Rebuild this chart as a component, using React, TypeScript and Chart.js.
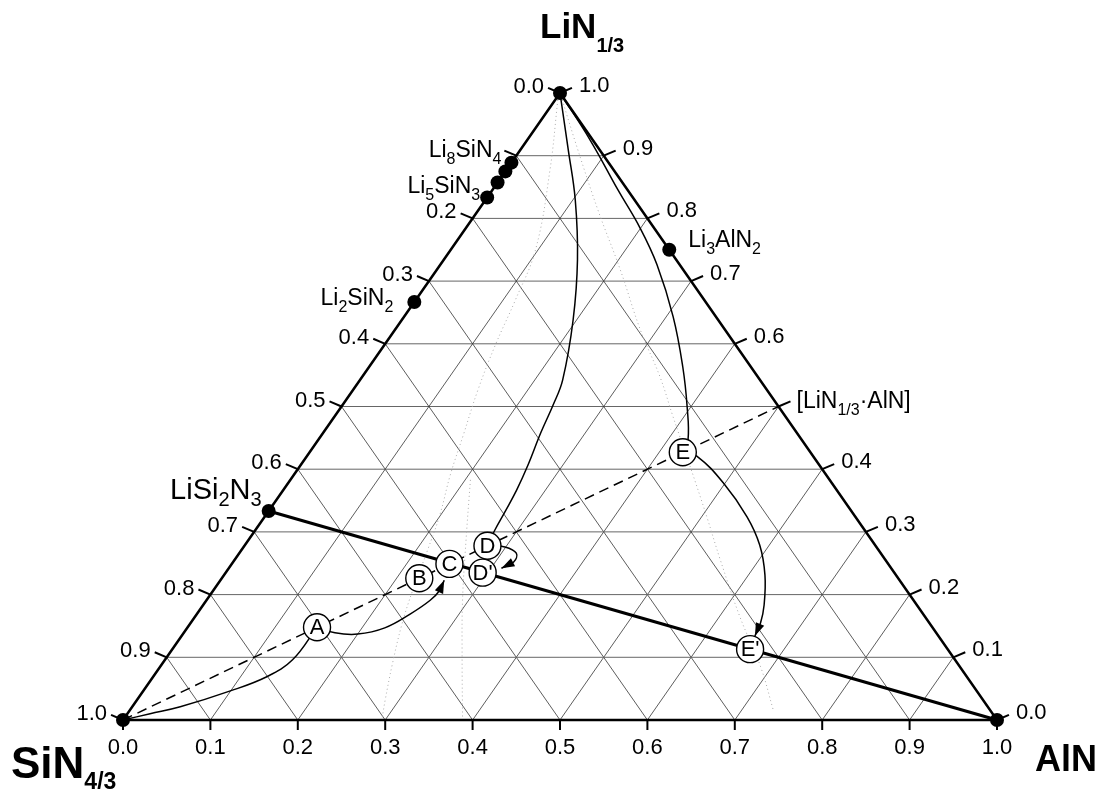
import React, { useEffect, useRef } from "react";
import { Chart, registerables } from "chart.js";
Chart.register(...registerables);

const FONT = '"Liberation Sans", Arial, Helvetica, sans-serif';
type Comp = [number, number]; // [AlN fraction, LiN1/3 fraction]

const tickValues = [0, 0.1, 0.2, 0.3, 0.4, 0.5, 0.6, 0.7, 0.8, 0.9, 1.0];
const tickLabels = ["0.0", "0.1", "0.2", "0.3", "0.4", "0.5", "0.6", "0.7", "0.8", "0.9", "1.0"];
const gridLevels = [0.1, 0.2, 0.3, 0.4, 0.5, 0.6, 0.7, 0.8, 0.9];
const hiddenLeftLabels = ["0.1"];
const hiddenRightLabels = ["0.5"];

const vertexComps: Comp[] = [[0, 0], [1, 0], [0, 1]];
const edgeLiN = [8 / 9, 7 / 8, 6 / 7, 5 / 6, 2 / 3, 1 / 3]; // on SiN4/3–LiN1/3 edge
const li3AlN2: Comp[] = [[0.25, 0.75]];

const dashedJoin: Comp[] = [[0, 0], [0.5, 0.5]];
const tieLine: Comp[] = [[0, 1 / 3], [1, 0]];

const circleNames = ["A", "B", "C", "D", "E", "D'", "E'"];
const circleAlN = [0.148, 0.226, 0.249, 0.278, 0.427, 0.294, 0.661];
const circleLiN = [0.148, 0.226, 0.249, 0.278, 0.427, 0.235, 0.113];

const curveSA: Comp[] = [[0, 0], [0.026, 0.010], [0.055, 0.021], [0.099, 0.046], [0.130, 0.069], [0.146, 0.096], [0.148, 0.148]];
const curveAC: Comp[] = [[0.148, 0.148], [0.173, 0.139], [0.200, 0.137], [0.226, 0.147], [0.244, 0.169], [0.256, 0.191], [0.259, 0.207], [0.256, 0.223]];
const curveTopD: Comp[] = [[0, 1], [0.055, 0.909], [0.103, 0.829], [0.153, 0.734], [0.196, 0.638], [0.232, 0.542], [0.241, 0.502], [0.249, 0.458], [0.260, 0.407], [0.267, 0.367], [0.271, 0.332], [0.274, 0.303], [0.278, 0.278]];
const curveDD: Comp[] = [[0.278, 0.278], [0.299, 0.276], [0.317, 0.266], [0.321, 0.252], [0.312, 0.242]];
const curveTopE: Comp[] = [[0, 1], [0.072, 0.925], [0.144, 0.845], [0.199, 0.785], [0.248, 0.726], [0.308, 0.643], [0.359, 0.563], [0.396, 0.499], [0.423, 0.447], [0.427, 0.427]];
const curveEE: Comp[] = [[0.427, 0.427], [0.446, 0.421], [0.498, 0.378], [0.552, 0.324], [0.589, 0.279], [0.619, 0.231], [0.642, 0.183], [0.652, 0.155], [0.656, 0.134]];
const dottedRight: Comp[] = [[0.008, 0.989], [0.066, 0.909], [0.137, 0.813], [0.210, 0.718], [0.281, 0.622], [0.341, 0.547], [0.388, 0.483], [0.447, 0.404], [0.506, 0.324], [0.556, 0.255], [0.624, 0.164], [0.687, 0.085], [0.736, 0.016]];
const dottedLeft: Comp[] = [[0.003, 0.989], [0.050, 0.877], [0.097, 0.750], [0.114, 0.670], [0.127, 0.598], [0.143, 0.526], [0.162, 0.455], [0.179, 0.391], [0.199, 0.327], [0.213, 0.271], [0.228, 0.207], [0.243, 0.152], [0.264, 0.088], [0.284, 0.032], [0.295, 0.003]];
const dottedMid: Comp[] = [[0.206, 0.383], [0.249, 0.287], [0.293, 0.191], [0.340, 0.096], [0.387, 0.003]];

type Part = [string, boolean];
const compoundLabels: { parts: Part[]; anchor: Comp; dx: number; dy: number; align: CanvasTextAlign; size: number; sub: number }[] = [
  { parts: [["Li", false], ["8", true], ["SiN", false], ["4", true]], anchor: [0, 8 / 9], dx: -10, dy: -6, align: "right", size: 23, sub: 16 },
  { parts: [["Li", false], ["5", true], ["SiN", false], ["3", true]], anchor: [0, 5 / 6], dx: -7, dy: -5, align: "right", size: 23, sub: 16 },
  { parts: [["Li", false], ["2", true], ["SiN", false], ["2", true]], anchor: [0, 2 / 3], dx: -21, dy: 3, align: "right", size: 23, sub: 16 },
  { parts: [["LiSi", false], ["2", true], ["N", false], ["3", true]], anchor: [0, 1 / 3], dx: -7, dy: -12, align: "right", size: 29, sub: 20 },
  { parts: [["Li", false], ["3", true], ["AlN", false], ["2", true]], anchor: [0.25, 0.75], dx: 19, dy: -3, align: "left", size: 23, sub: 16 },
  { parts: [["[LiN", false], ["1/3", true], ["·AlN]", false]], anchor: [0.5, 0.5], dx: 18, dy: 1, align: "left", size: 23, sub: 16 },
];

const toXY = (c: Comp) => ({ x: c[0] + c[1] / 2, y: c[1] });

function richText(ctx: CanvasRenderingContext2D, x: number, y: number, parts: Part[], size: number, sub: number, weight: string, align: CanvasTextAlign, subShift: number) {
  let w = 0;
  const widths: number[] = [];
  for (const [t, s] of parts) {
    ctx.font = `${weight} ${s ? sub : size}px ${FONT}`;
    const mw = ctx.measureText(t).width;
    widths.push(mw);
    w += mw;
  }
  let cx = align === "left" ? x : align === "right" ? x - w : x - w / 2;
  ctx.textAlign = "left";
  ctx.textBaseline = "alphabetic";
  parts.forEach(([t, s], i) => {
    ctx.font = `${weight} ${s ? sub : size}px ${FONT}`;
    ctx.fillText(t, cx, s ? y + subShift : y);
    cx += widths[i];
  });
}

const ternaryPlugin = {
  id: "ternaryDecor",
  beforeDatasetsDraw(chart: any) {
    const ctx: CanvasRenderingContext2D = chart.ctx;
    const xs = chart.scales.x, ys = chart.scales.y;
    const P = (c: Comp) => [xs.getPixelForValue(c[0] + c[1] / 2), ys.getPixelForValue(c[1])];
    ctx.save();
    ctx.strokeStyle = "#000";
    ctx.lineWidth = 2;
    const L = 13, dxT = 0.92, dyT = -0.39;
    tickValues.forEach((v) => {
      const [bx, by] = P([v, 0]);
      ctx.beginPath(); ctx.moveTo(bx, by); ctx.lineTo(bx, by + 10); ctx.stroke();
      const [lx, ly] = P([0, 1 - v]);
      ctx.beginPath(); ctx.moveTo(lx, ly); ctx.lineTo(lx - dxT * L, ly + dyT * L); ctx.stroke();
      const [rx, ry] = P([1 - v, v]);
      ctx.beginPath(); ctx.moveTo(rx, ry); ctx.lineTo(rx + dxT * L, ry + dyT * L); ctx.stroke();
    });
    ctx.restore();
  },
  afterDatasetsDraw(chart: any) {
    const ctx: CanvasRenderingContext2D = chart.ctx;
    const xs = chart.scales.x, ys = chart.scales.y;
    const P = (c: Comp) => [xs.getPixelForValue(c[0] + c[1] / 2), ys.getPixelForValue(c[1])];
    ctx.save();
    ctx.fillStyle = "#000";
    const arrow = (pts: Comp[]) => {
      const [x1, y1] = P(pts[pts.length - 1]);
      const [x0, y0] = P(pts[pts.length - 2]);
      const a = Math.atan2(y1 - y0, x1 - x0);
      const len = 13, hw = 4.5;
      ctx.beginPath();
      ctx.moveTo(x1, y1);
      ctx.lineTo(x1 - len * Math.cos(a) + hw * Math.sin(a), y1 - len * Math.sin(a) - hw * Math.cos(a));
      ctx.lineTo(x1 - len * Math.cos(a) - hw * Math.sin(a), y1 - len * Math.sin(a) + hw * Math.cos(a));
      ctx.closePath();
      ctx.fill();
    };
    arrow(curveAC);
    arrow(curveDD);
    arrow(curveEE);

    ctx.font = `22px ${FONT}`;
    tickValues.forEach((v, i) => {
      const lab = tickLabels[i];
      const [bx, by] = P([v, 0]);
      ctx.textAlign = "center"; ctx.textBaseline = "alphabetic";
      ctx.fillText(lab, bx, by + 34);
      if (!hiddenLeftLabels.includes(lab)) {
        const [lx, ly] = P([0, 1 - v]);
        ctx.textAlign = "right";
        ctx.fillText(lab, lx - 16, ly);
      }
      if (!hiddenRightLabels.includes(lab)) {
        const [rx, ry] = P([1 - v, v]);
        ctx.textAlign = "left";
        ctx.fillText(lab, rx + 19, ry - 1);
      }
    });

    ctx.font = `22px ${FONT}`;
    ctx.textAlign = "center"; ctx.textBaseline = "middle";
    circleNames.forEach((n, i) => {
      const [cx, cy] = P([circleAlN[i], circleLiN[i]]);
      ctx.fillText(n, cx, cy + 1);
    });

    compoundLabels.forEach((l) => {
      const [ax, ay] = P(l.anchor);
      richText(ctx, ax + l.dx, ay + l.dy, l.parts, l.size, l.sub, "normal", l.align, 7);
    });

    const [tx, ty] = P([0, 1]);
    richText(ctx, tx - 20, ty - 55, [["LiN", false], ["1/3", true]], 35, 20, "bold", "left", 14);
    const [sx, sy] = P([0, 0]);
    richText(ctx, sx - 112, sy + 58, [["SiN", false], ["4/3", true]], 44, 23, "bold", "left", 11);
    const [ex, ey] = P([1, 0]);
    richText(ctx, ex + 38, ey + 51, [["AlN", false]], 36, 20, "bold", "left", 0);
    ctx.restore();
  },
};

export default function App() {
  const ref = useRef<HTMLCanvasElement>(null);
  useEffect(() => {
    if (!ref.current) return;
    const datasets: any[] = [];
    const line = (pts: Comp[], opts: any) =>
      datasets.push({ data: pts.map(toXY), showLine: true, pointRadius: 0, pointHoverRadius: 0, borderColor: "#000", borderWidth: 1, fill: false, tension: 0, ...opts });

    datasets.push({
      data: circleNames.map((_, i) => toXY([circleAlN[i], circleLiN[i]])),
      showLine: false, pointRadius: 13.5, pointHoverRadius: 13.5, pointBackgroundColor: "#fff", pointBorderColor: "#000", pointBorderWidth: 1.4, order: 0,
    });
    const dots: Comp[] = [...vertexComps, ...edgeLiN.map((l) => [0, l] as Comp), ...li3AlN2];
    datasets.push({
      data: dots.map(toXY), showLine: false, pointRadius: 7, pointHoverRadius: 7, pointBackgroundColor: "#000", pointBorderColor: "#000", pointBorderWidth: 0, order: 1,
    });
    line(curveSA, { borderWidth: 1.5, tension: 0.4, order: 2 });
    line(curveAC, { borderWidth: 1.5, tension: 0.4, order: 2 });
    line(curveTopD, { borderWidth: 1.5, tension: 0.4, order: 2 });
    line(curveDD, { borderWidth: 1.5, tension: 0.4, order: 2 });
    line(curveTopE, { borderWidth: 1.5, tension: 0.4, order: 2 });
    line(curveEE, { borderWidth: 1.5, tension: 0.4, order: 2 });
    line(tieLine, { borderWidth: 3, order: 3 });
    line(dashedJoin, { borderWidth: 1.5, borderDash: [10, 6], order: 3 });
    line([[0, 0], [1, 0], [0, 1], [0, 0]], { borderWidth: 2.5, order: 4 });
    const dotted = { borderWidth: 1, borderColor: "#aaa", borderDash: [1, 3], tension: 0.4, order: 5 };
    line(dottedRight, dotted);
    line(dottedLeft, dotted);
    line(dottedMid, dotted);
    gridLevels.forEach((v) => {
      line([[0, v], [1 - v, v]], { borderWidth: 1, borderColor: "#666", order: 6 });
      line([[v, 0], [v, 1 - v]], { borderWidth: 0.8, borderColor: "#333", order: 6 });
      line([[1 - v, 0], [0, 1 - v]], { borderWidth: 0.8, borderColor: "#333", order: 6 });
    });

    const chart = new Chart(ref.current, {
      type: "scatter",
      data: { datasets },
      options: {
        responsive: false,
        animation: false,
        layout: { padding: 0, autoPadding: false },
        plugins: { legend: { display: false }, tooltip: { enabled: false } },
        events: [],
        scales: {
          x: { type: "linear", display: false, min: -123 / 874, max: (1101 - 123) / 874 },
          y: { type: "linear", display: false, min: -(791 - 720) / 627, max: 720 / 627 },
        },
      },
      plugins: [ternaryPlugin as any],
    });
    return () => chart.destroy();
  }, []);
  return (
    <div style={{ position: "fixed", left: 0, top: 0, width: 1101, height: 791, background: "#fff" }}>
      <canvas ref={ref} width={1101} height={791} style={{ display: "block" }} />
    </div>
  );
}
